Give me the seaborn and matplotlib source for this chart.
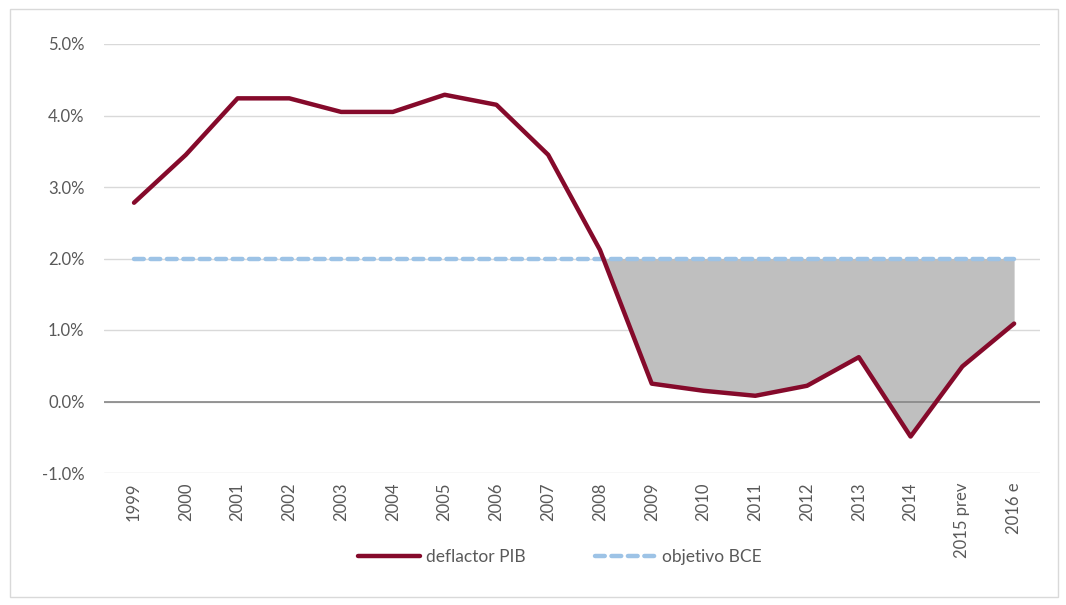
import matplotlib
matplotlib.use("Agg")
import matplotlib.pyplot as plt
import seaborn as sns
import pandas as pd
import numpy as np
from matplotlib.patches import Rectangle

years = ["1999", "2000", "2001", "2002", "2003", "2004", "2005", "2006", "2007",
         "2008", "2009", "2010", "2011", "2012", "2013", "2014", "2015 prev", "2016 e"]
deflactor = [2.78, 3.45, 4.24, 4.24, 4.05, 4.05, 4.29, 4.15, 3.45,
             2.12, 0.25, 0.15, 0.08, 0.22, 0.62, -0.49, 0.49, 1.09]
objetivo = [2.0] * len(years)
fill_from = "2008"
yticks = [-1, 0, 1, 2, 3, 4, 5]

sns.set_theme(style="white")
plt.rcParams['font.family'] = ['Lato', 'DejaVu Sans']

df = pd.DataFrame({"year": years, "deflactor PIB": deflactor, "objetivo BCE": objetivo})
df["x"] = np.arange(len(years))

fig = plt.figure(figsize=(10.66, 6.05), dpi=100)
ax = fig.add_axes([104/1066, 1 - 473/605, (1040-104)/1066, (473-44)/605])

# shaded gap
i0 = years.index(fill_from)
sub = df.iloc[i0:]
ax.fill_between(sub["x"], sub["deflactor PIB"], sub["objetivo BCE"], color="#bfbfbf", lw=0, zorder=1)

sns.lineplot(data=df, x="x", y="objetivo BCE", ax=ax, color="#9dc3e6", lw=3.2,
             linestyle=(0, (2.2, 1.5)), label="objetivo BCE", zorder=3)
sns.lineplot(data=df, x="x", y="deflactor PIB", ax=ax, color="#850a2b", lw=3.2,
             label="deflactor PIB", zorder=4)
for ln in ax.lines:
    ln.set_solid_capstyle("round")
    ln.set_dash_capstyle("round")

ax.set_xlim(-0.58, len(years) - 0.5)
ax.set_ylim(-1, 5)
ax.set_yticks(yticks)
ax.set_yticklabels([f"{v:.1f}%" for v in yticks])
ax.yaxis.grid(True, color="#d9d9d9", lw=1)
ax.axhline(0, color="#868686", lw=1.2, zorder=2)
ax.set_xticks(df["x"])
ax.set_xticklabels(years, rotation=90)
ax.set_xlabel("")
ax.set_ylabel("")
for s in ax.spines.values():
    s.set_visible(False)
ax.tick_params(axis="both", length=0, labelsize=12, colors="#595959")
ax.tick_params(axis="y", pad=14)
ax.tick_params(axis="x", pad=7)

h, l = ax.get_legend_handles_labels()
order = [l.index("deflactor PIB"), l.index("objetivo BCE")]
ax.legend([h[i] for i in order], [l[i] for i in order], loc="center",
          bbox_to_anchor=(560/1066, 1 - 557/605), bbox_transform=fig.transFigure,
          ncol=2, frameon=False, fontsize=12.5, labelcolor="#595959",
          handlelength=3.6, columnspacing=4.0, handletextpad=0.3)

fig.patches.append(Rectangle((10/1066, 8/605), 1048/1066, 588/605, transform=fig.transFigure,
                             fill=False, edgecolor="#d9d9d9", lw=1))

fig.savefig("out.png", dpi=100)
